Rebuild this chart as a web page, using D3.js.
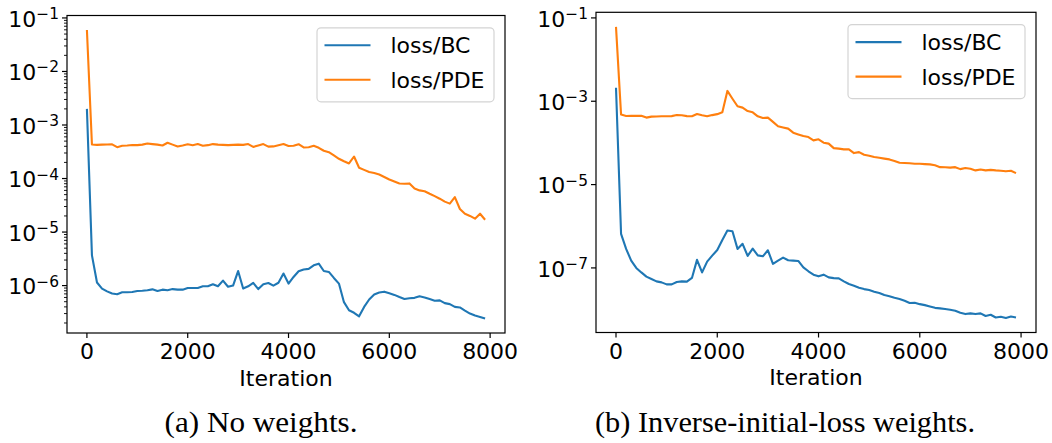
<!DOCTYPE html>
<html>
<head>
<meta charset="utf-8">
<script src="https://cdn.jsdelivr.net/npm/d3@7"></script>
<style>
  html, body { margin: 0; padding: 0; background: #ffffff; }
  svg { display: block; }
</style>
</head>
<body>
<svg id="fig" width="1052" height="443"></svg>
<script>
// Training iterations at which the losses were logged
const iterations = [
  0, 100, 200, 300, 400, 500, 600, 700, 800, 900,
  1000, 1100, 1200, 1300, 1400, 1500, 1600, 1700, 1800, 1900,
  2000, 2100, 2200, 2300, 2400, 2500, 2600, 2700, 2800, 2900,
  3000, 3100, 3200, 3300, 3400, 3500, 3600, 3700, 3800, 3900,
  4000, 4100, 4200, 4300, 4400, 4500, 4600, 4700, 4800, 4900,
  5000, 5100, 5200, 5300, 5400, 5500, 5600, 5700, 5800, 5900,
  6000, 6100, 6200, 6300, 6400, 6500, 6600, 6700, 6800, 6900,
  7000, 7100, 7200, 7300, 7400, 7500, 7600, 7700, 7800, 7900
];

// (a) no weights
const bcNoWeights = [
  2.0e-3, 3.67e-6, 1.14e-6, 8.8e-7, 7.8e-7, 7.1e-7, 6.9e-7, 7.5e-7, 7.5e-7, 7.6e-7,
  7.9e-7, 8.0e-7, 8.2e-7, 8.5e-7, 7.9e-7, 8.4e-7, 8.2e-7, 8.6e-7, 8.4e-7, 8.4e-7,
  9.0e-7, 9.0e-7, 9.0e-7, 9.7e-7, 9.7e-7, 1.06e-6, 9.7e-7, 1.24e-6, 9.5e-7, 1.0e-6,
  1.87e-6, 8.8e-7, 9.7e-7, 1.12e-6, 8.6e-7, 1.06e-6, 1.12e-6, 1.0e-6, 1.13e-6, 1.68e-6,
  1.09e-6, 1.45e-6, 1.85e-6, 2.0e-6, 2.05e-6, 2.39e-6, 2.57e-6, 1.87e-6, 1.8e-6, 1.39e-6,
  1.09e-6, 4.9e-7, 3.46e-7, 3.1e-7, 2.67e-7, 4.0e-7, 5.5e-7, 6.8e-7, 7.4e-7, 7.7e-7,
  7.2e-7, 6.7e-7, 6.1e-7, 5.6e-7, 5.8e-7, 5.9e-7, 6.3e-7, 6.0e-7, 5.6e-7, 5.2e-7,
  5.3e-7, 4.7e-7, 4.5e-7, 4.0e-7, 3.9e-7, 3.4e-7, 3.0e-7, 2.75e-7, 2.6e-7, 2.42e-7
];
const pdeNoWeights = [
  5.97e-2, 4.33e-4, 4.25e-4, 4.3e-4, 4.33e-4, 4.35e-4, 3.85e-4, 4.1e-4, 4.15e-4, 4.23e-4,
  4.2e-4, 4.3e-4, 4.52e-4, 4.4e-4, 4.3e-4, 4.14e-4, 4.66e-4, 4.3e-4, 3.96e-4, 4.15e-4,
  4.38e-4, 4.2e-4, 4.4e-4, 4.1e-4, 4.2e-4, 4.4e-4, 4.3e-4, 4.25e-4, 4.2e-4, 4.25e-4,
  4.3e-4, 4.25e-4, 4.4e-4, 3.9e-4, 4.15e-4, 4.4e-4, 3.95e-4, 3.98e-4, 4.2e-4, 4.4e-4,
  4.05e-4, 4.1e-4, 4.38e-4, 3.8e-4, 3.85e-4, 4.09e-4, 3.75e-4, 3.3e-4, 3.1e-4, 2.7e-4,
  2.34e-4, 2.1e-4, 1.91e-4, 2.58e-4, 1.59e-4, 1.45e-4, 1.32e-4, 1.27e-4, 1.19e-4, 1.07e-4,
  9.6e-5, 8.8e-5, 8.1e-5, 8.0e-5, 8.1e-5, 6.5e-5, 6.0e-5, 5.8e-5, 5.2e-5, 4.7e-5,
  4.2e-5, 3.7e-5, 3.4e-5, 4.5e-5, 2.7e-5, 2.2e-5, 2.0e-5, 1.78e-5, 2.2e-5, 1.7e-5
];

// (b) inverse-initial-loss weights
const bcInverse = [
  2.1e-3, 6.56e-7, 2.86e-7, 1.5e-7, 1.0e-7, 7.8e-8, 6.17e-8, 5.43e-8, 4.76e-8, 4.5e-8,
  4.03e-8, 4.03e-8, 4.6e-8, 4.76e-8, 4.7e-8, 5.74e-8, 1.56e-7, 7.8e-8, 1.42e-7, 1.97e-7,
  2.7e-7, 4.7e-7, 7.9e-7, 7.6e-7, 2.86e-7, 3.78e-7, 1.94e-7, 2.91e-7, 2.0e-7, 1.9e-7,
  2.65e-7, 1.25e-7, 1.5e-7, 1.77e-7, 1.53e-7, 1.5e-7, 1.47e-7, 1.03e-7, 8.3e-8, 6.9e-8,
  6.28e-8, 6.9e-8, 5.94e-8, 5.7e-8, 5.6e-8, 4.76e-8, 4.1e-8, 3.75e-8, 3.36e-8, 3.1e-8,
  2.95e-8, 2.69e-8, 2.5e-8, 2.24e-8, 2.1e-8, 1.93e-8, 1.8e-8, 1.63e-8, 1.44e-8, 1.46e-8,
  1.35e-8, 1.28e-8, 1.19e-8, 1.1e-8, 1.07e-8, 1.03e-8, 9.9e-9, 9.4e-9, 8.4e-9, 7.8e-9,
  8.1e-9, 7.8e-9, 8.1e-9, 7.0e-9, 7.5e-9, 6.45e-9, 6.7e-9, 6.3e-9, 6.8e-9, 6.45e-9
];
const pdeInverse = [
  6.1e-2, 4.78e-4, 4.43e-4, 4.45e-4, 4.45e-4, 4.5e-4, 4.05e-4, 4.28e-4, 4.3e-4, 4.35e-4,
  4.35e-4, 4.4e-4, 4.68e-4, 4.6e-4, 4.4e-4, 4.35e-4, 4.94e-4, 4.6e-4, 4.35e-4, 4.65e-4,
  4.9e-4, 5.42e-4, 1.77e-3, 1.15e-3, 7.57e-4, 7.03e-4, 5.83e-4, 5.42e-4, 4.35e-4, 3.95e-4,
  4.05e-4, 3.2e-4, 2.5e-4, 2.35e-4, 2.2e-4, 1.76e-4, 1.6e-4, 1.46e-4, 1.38e-4, 1.15e-4,
  1.22e-4, 1.01e-4, 9.6e-5, 7.5e-5, 7.3e-5, 7.0e-5, 7.0e-5, 5.7e-5, 6.0e-5, 5.2e-5,
  4.9e-5, 4.57e-5, 4.4e-5, 4.2e-5, 4.02e-5, 3.7e-5, 3.35e-5, 3.3e-5, 3.25e-5, 3.17e-5,
  3.15e-5, 3.1e-5, 3.05e-5, 2.9e-5, 2.62e-5, 2.6e-5, 2.55e-5, 2.62e-5, 2.35e-5, 2.5e-5,
  2.4e-5, 2.19e-5, 2.3e-5, 2.19e-5, 2.25e-5, 2.19e-5, 2.15e-5, 2.08e-5, 2.15e-5, 1.88e-5
];

const seriesNames = ["loss/BC", "loss/PDE"];
const seriesColors = ["#1f77b4", "#ff7f0e"];
const xTicks = [0, 2000, 4000, 6000, 8000];
const yTicksNoWeights = [1e-1, 1e-2, 1e-3, 1e-4, 1e-5, 1e-6];
const yTicksInverse = [1e-1, 1e-3, 1e-5, 1e-7];
const xLabel = "Iteration";
const captions = ["(a) No weights.", "(b) Inverse-initial-loss weights."];

const panels = [
  { x0: 67, x1: 505, y0: 15.5, y1: 333, series: [bcNoWeights, pdeNoWeights],
    yTicks: yTicksNoWeights, minor: true, caption: captions[0], capX: 261, capW: 193 },
  { x0: 596, x1: 1036, y0: 12.3, y1: 332.5, series: [bcInverse, pdeInverse],
    yTicks: yTicksInverse, minor: false, caption: captions[1], capX: 785, capW: 380 }
];

const svg = d3.select("#fig");
const SANS = "'DejaVu Sans', sans-serif";
const FS = 22;

panels.forEach(p => {
  // x: 5% margins on the iteration range
  const xMin = d3.min(iterations), xMax = d3.max(iterations);
  const xPad = (xMax - xMin) * 0.05;
  const x = d3.scaleLinear().domain([xMin - xPad, xMax + xPad]).range([p.x0, p.x1]);

  // y: log scale with 5% margins in decades
  const all = p.series.flat();
  const lo = Math.log10(d3.min(all)), hi = Math.log10(d3.max(all));
  const yPad = (hi - lo) * 0.05;
  const y = d3.scaleLog().domain([10 ** (lo - yPad), 10 ** (hi + yPad)]).range([p.y1, p.y0]);

  const g = svg.append("g");

  // data lines
  const line = d3.line().x((d, i) => x(iterations[i])).y(d => y(d));
  p.series.forEach((s, k) => {
    g.append("path")
      .datum(s)
      .attr("d", line)
      .attr("fill", "none")
      .attr("stroke", seriesColors[k])
      .attr("stroke-width", 2.1)
      .attr("stroke-linejoin", "round");
  });

  // frame
  g.append("rect")
    .attr("x", p.x0).attr("y", p.y0)
    .attr("width", p.x1 - p.x0).attr("height", p.y1 - p.y0)
    .attr("fill", "none").attr("stroke", "#000").attr("stroke-width", 1.2);

  // x ticks
  xTicks.forEach(t => {
    const px = x(t);
    g.append("line").attr("x1", px).attr("x2", px)
      .attr("y1", p.y1).attr("y2", p.y1 + 5)
      .attr("stroke", "#000").attr("stroke-width", 1.2);
    g.append("text").attr("x", px).attr("y", p.y1 + 26)
      .attr("text-anchor", "middle")
      .style("font-family", SANS).style("font-size", FS + "px")
      .attr("fill", "#000").text(t);
  });
  g.append("text").attr("x", (p.x0 + p.x1) / 2).attr("y", p.y1 + 52.5)
    .attr("text-anchor", "middle")
    .style("font-family", SANS).style("font-size", FS + "px")
    .attr("fill", "#000").text(xLabel);

  // minor log ticks
  if (p.minor) {
    const [dLo, dHi] = y.domain();
    for (let e = Math.floor(Math.log10(dLo)); e <= Math.ceil(Math.log10(dHi)); e++) {
      for (let m = 2; m <= 9; m++) {
        const v = m * 10 ** e;
        if (v < dLo || v > dHi) continue;
        const py = y(v);
        g.append("line").attr("x1", p.x0 - 3).attr("x2", p.x0)
          .attr("y1", py).attr("y2", py)
          .attr("stroke", "#000").attr("stroke-width", 0.9);
      }
    }
  }

  // major y ticks with power-of-ten labels
  p.yTicks.forEach(t => {
    const py = y(t);
    g.append("line").attr("x1", p.x0 - 5).attr("x2", p.x0)
      .attr("y1", py).attr("y2", py)
      .attr("stroke", "#000").attr("stroke-width", 1.2);
    const exp = Math.round(Math.log10(t));
    const txt = g.append("text").attr("x", p.x0 - 8).attr("y", py + 8.7)
      .attr("text-anchor", "end")
      .style("font-family", SANS).style("font-size", FS + "px")
      .attr("fill", "#000");
    txt.append("tspan").text("10");
    txt.append("tspan").attr("dy", -7.7).style("font-size", "15.4px")
      .text("\u2212" + Math.abs(exp));
  });

  // legend
  const lw = 177, lh = 74;
  const lx = p.x1 - 11 - lw, ly = p.y0 + 12.3;
  g.append("rect").attr("x", lx).attr("y", ly).attr("width", lw).attr("height", lh)
    .attr("rx", 4).attr("ry", 4)
    .attr("fill", "#fff").attr("fill-opacity", 0.8)
    .attr("stroke", "#d4d4d4").attr("stroke-width", 1.2);
  seriesNames.forEach((name, k) => {
    const ry = ly + 17.5 + k * 34.5;
    g.append("line").attr("x1", lx + 7.5).attr("x2", lx + 53.5)
      .attr("y1", ry).attr("y2", ry)
      .attr("stroke", seriesColors[k]).attr("stroke-width", 2.1);
    g.append("text").attr("x", lx + 73.5).attr("y", ry + 8)
      .style("font-family", SANS).style("font-size", FS + "px")
      .attr("fill", "#000").text(name);
  });

  // caption
  svg.append("text").attr("x", p.capX).attr("y", 432)
    .attr("text-anchor", "middle")
    .attr("textLength", p.capW).attr("lengthAdjust", "spacingAndGlyphs")
    .style("font-family", "'Liberation Serif', 'DejaVu Serif', serif")
    .style("font-size", "29px")
    .attr("fill", "#000").text(p.caption);
});
</script>
</body>
</html>
